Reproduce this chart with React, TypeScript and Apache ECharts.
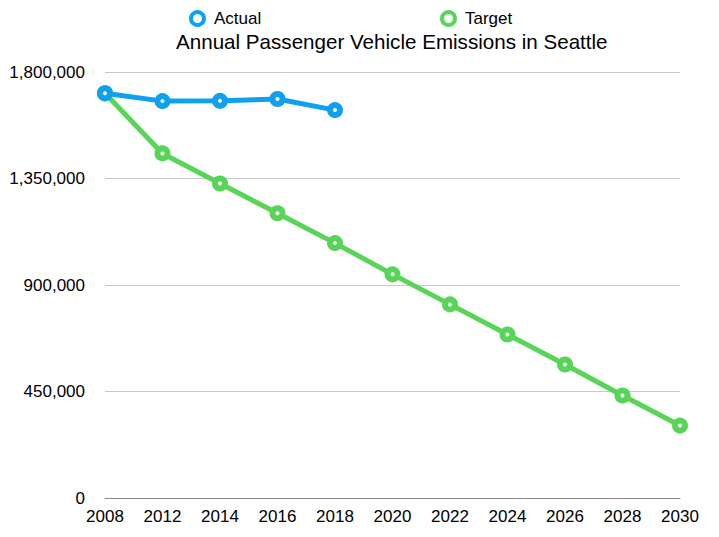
import * as echarts from 'echarts'
import { useEffect, useRef } from 'react'

const years = ['2008', '2012', '2014', '2016', '2018', '2020', '2022', '2024', '2026', '2028', '2030']
const actual = [1710000, 1677000, 1678000, 1686000, 1639000, null, null, null, null, null, null]
const target = [1710000, 1456000, 1329000, 1203000, 1077000, 945000, 818000, 691000, 564000, 433000, 306000]
const yTicks = [0, 450000, 900000, 1350000, 1800000]

const BLUE = '#0fa0f0'
const GREEN = '#58d558'
const FONT = '"Liberation Sans", Arial, Helvetica, sans-serif'

// 图例只要一个空心圆圈
const legendItem = (name: string, color: string) => ({
  name,
  icon: 'circle',
  itemStyle: { color: '#ffffff', borderColor: color, borderWidth: 4 },
})

const legendText = { fontFamily: FONT, fontSize: 17, color: '#000', padding: [0, 0, 0, 5] }

export default function App() {
  const ref = useRef<HTMLDivElement>(null)

  useEffect(() => {
    if (!ref.current) return
    const chart = echarts.init(ref.current, null, { renderer: 'svg' })
    chart.setOption({
      animation: false,
      textStyle: { fontFamily: FONT, color: '#000' },
      title: {
        text: 'Annual Passenger Vehicle Emissions in Seattle',
        left: 171,
        top: 26,
        textStyle: { fontFamily: FONT, fontSize: 20.6, fontWeight: 'normal', color: '#000' },
      },
      legend: [
        {
          left: 184,
          top: 5,
          itemWidth: 13,
          itemHeight: 13,
          textStyle: legendText,
          data: [legendItem('Actual', BLUE)],
        },
        {
          left: 435,
          top: 5,
          itemWidth: 13,
          itemHeight: 13,
          textStyle: legendText,
          data: [legendItem('Target', GREEN)],
        },
      ],
      grid: { left: 105, right: 39, top: 72, bottom: 39, containLabel: false },
      xAxis: {
        type: 'category',
        data: years,
        boundaryGap: false,
        axisLine: { lineStyle: { color: '#8a8a8a', width: 1 } },
        axisTick: { show: false },
        axisLabel: { fontFamily: FONT, fontSize: 17, color: '#000', margin: 10, interval: 0 },
      },
      yAxis: {
        type: 'value',
        min: yTicks[0],
        max: yTicks[yTicks.length - 1],
        interval: 450000,
        axisLine: { show: false },
        axisTick: { show: false },
        splitLine: { lineStyle: { color: '#c8c8c8', width: 1 } },
        axisLabel: {
          fontFamily: FONT,
          fontSize: 17,
          color: '#000',
          margin: 20,
          formatter: (v: number) => v.toLocaleString('en-US'),
        },
      },
      series: [
        {
          name: 'Target',
          type: 'line',
          data: target,
          symbol: 'circle',
          symbolSize: 10,
          lineStyle: { color: GREEN, width: 5 },
          itemStyle: { color: '#ffffff', borderColor: GREEN, borderWidth: 6 },
        },
        {
          name: 'Actual',
          type: 'line',
          data: actual,
          symbol: 'circle',
          symbolSize: 10,
          lineStyle: { color: BLUE, width: 5 },
          itemStyle: { color: '#ffffff', borderColor: BLUE, borderWidth: 6 },
        },
      ],
    })
    return () => chart.dispose()
  }, [])

  return <div ref={ref} style={{ position: 'fixed', left: 0, top: 0, width: 719, height: 537, background: '#fff' }} />
}
